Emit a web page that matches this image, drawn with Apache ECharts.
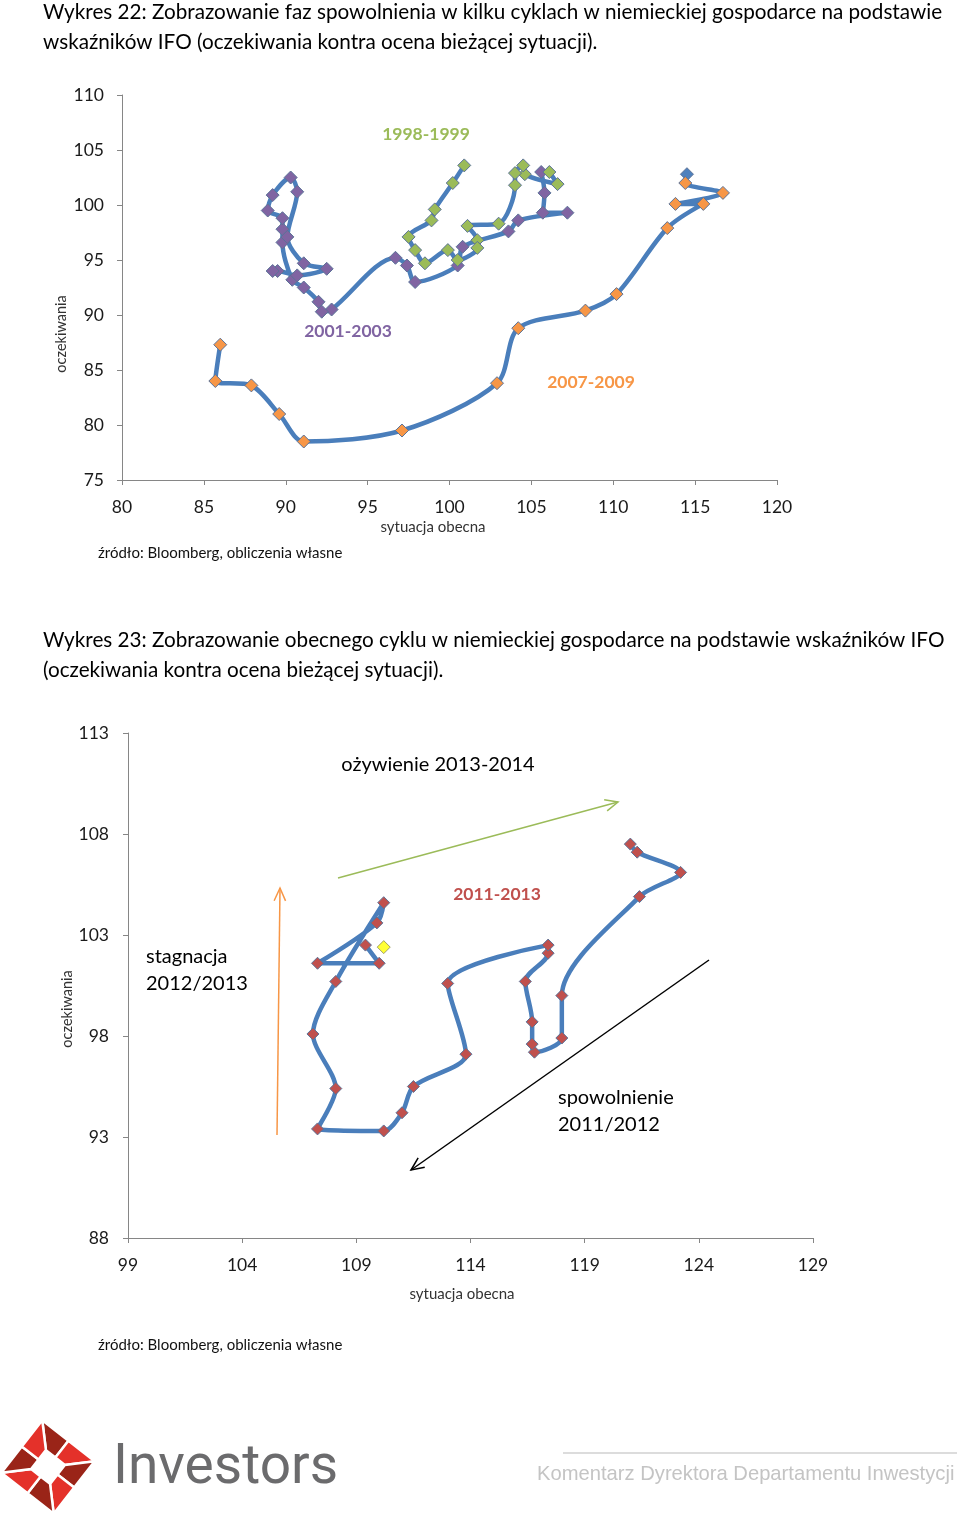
<!DOCTYPE html>
<html>
<head>
<meta charset="utf-8">
<script src="https://cdn.jsdelivr.net/npm/echarts@6/dist/echarts.min.js"></script>
<style>
html,body{margin:0;padding:0;background:#fff;}
#c{width:960px;height:1516px;}
</style>
</head>
<body>
<div id="c"></div>
<script>
// ---------- DATA ----------
// Chart 1 (Wykres 22): [sytuacja obecna, oczekiwania]
const c1XTicks = [80, 85, 90, 95, 100, 105, 110, 115, 120];
const c1YTicks = [75, 80, 85, 90, 95, 100, 105, 110];
const c1Orange = [
  [114.5,102.8],[114.4,102.0],[116.7,101.1],[113.8,100.1],[115.5,100.1],[113.3,97.9],
  [110.2,91.9],[108.3,90.4],[104.2,88.8],[102.9,83.8],[97.1,79.5],[91.1,78.5],
  [89.6,81.0],[87.9,83.6],[85.7,84.0],[86.0,87.3]
];
const c1Purple = [
  [105.6,103.0],[105.8,101.1],[105.7,99.3],[107.2,99.3],[104.2,98.6],[103.6,97.6],
  [100.8,96.2],[100.5,94.5],[97.9,93.0],[97.4,94.5],[96.7,95.2],[92.8,90.5],
  [92.2,90.3],[92.0,91.2],[91.1,92.5],[90.4,93.2],[89.8,96.6],[89.8,97.8],
  [89.8,98.8],[88.9,99.5],[89.2,100.9],[90.3,102.5],[90.7,101.2],[90.1,97.1],
  [91.1,94.7],[92.5,94.2],[90.7,93.6],[89.5,94.0],[89.2,94.0]
];
const c1Green = [
  [106.1,103.0],[106.6,101.9],[104.6,102.8],[104.5,103.6],[104.0,102.9],[104.0,101.8],
  [103.0,98.3],[101.1,98.1],[101.7,96.8],[101.7,96.1],[100.5,95.0],[99.9,95.9],
  [98.5,94.7],[97.9,95.9],[97.5,97.1],[98.9,98.6],[99.1,99.6],[100.2,102.0],[100.9,103.6]
];
// Chart 2 (Wykres 23)
const c2XTicks = [99, 104, 109, 114, 119, 124, 129];
const c2YTicks = [88, 93, 98, 103, 108, 113];
const c2Red = [
  [121.0,107.5],[121.3,107.1],[123.2,106.1],[121.4,104.9],[118.0,100.0],[118.0,97.9],
  [116.8,97.2],[116.7,97.6],[116.7,98.7],[116.4,100.7],[117.4,102.1],[117.4,102.5],
  [113.0,100.6],[113.8,97.1],[111.5,95.5],[111.0,94.2],[110.2,93.3],[107.3,93.4],
  [108.1,95.4],[107.1,98.1],[108.1,100.7],[110.2,104.6],[109.9,103.6],[107.3,101.6],
  [110.0,101.6],[109.4,102.5]
];
const c2Latest = [[110.2,102.4]];

// ---------- STYLE ----------
const FONT = 'Lato, "Open Sans", sans-serif';
const LINE_BLUE = '#4A7EBB';
const MARK_BORDER = '#5B7398';
const AXIS_GRAY = '#868686';

const chart = echarts.init(document.getElementById('c'), null, {renderer:'canvas'});

function xAx(grid, min, max, ticks){
  return {
    gridIndex: grid, type:'value', min:min, max:max, interval:1,
    axisLine:{show:true, onZero:false, lineStyle:{color:AXIS_GRAY, width:1}},
    axisTick:{show:true, length:5, customValues:ticks, lineStyle:{color:AXIS_GRAY}},
    axisLabel:{show:true, customValues:ticks, margin:18, fontSize:17.5, color:'#1a1a1a', fontFamily:FONT},
    splitLine:{show:false}
  };
}
function yAx(grid, min, max, ticks, margin){
  return {
    gridIndex: grid, type:'value', min:min, max:max, interval:1,
    axisLine:{show:true, onZero:false, lineStyle:{color:AXIS_GRAY, width:1}},
    axisTick:{show:true, length:5, customValues:ticks, lineStyle:{color:AXIS_GRAY}},
    axisLabel:{show:true, customValues:ticks, margin:margin, fontSize:17.5, color:'#1a1a1a', fontFamily:FONT},
    splitLine:{show:false}
  };
}
function lineSeries(name, grid, data, color, size){
  return {
    name:name, type:'line', xAxisIndex:grid, yAxisIndex:grid, data:data,
    smooth:0.3, symbol:'diamond', symbolSize:size, showAllSymbol:true,
    lineStyle:{color:LINE_BLUE, width:4.5},
    itemStyle:{color:color, borderColor:MARK_BORDER, borderWidth:1},
    emphasis:{disabled:true}, animation:false
  };
}

function txt(x, y, text, opt){
  opt = opt || {};
  return {
    type:'text', x:x, y:y, rotation: opt.rotation || 0, z:100,
    style:{
      text:text, fill: opt.fill || '#000',
      fontSize: opt.size || 19, fontFamily: opt.family || FONT,
      fontWeight: opt.weight || 'normal',
      align: opt.align || 'left', verticalAlign: opt.valign || 'middle'
    }
  };
}
function arrow(x1,y1,x2,y2,color,width){
  const ang = Math.atan2(y2-y1, x2-x1);
  const L = 14, a = 0.42;
  const p1 = [x2 - L*Math.cos(ang - a), y2 - L*Math.sin(ang - a)];
  const p2 = [x2 - L*Math.cos(ang + a), y2 - L*Math.sin(ang + a)];
  return [
    {type:'line', z:50, shape:{x1:x1,y1:y1,x2:x2,y2:y2}, style:{stroke:color, lineWidth:width}},
    {type:'polyline', z:50, shape:{points:[p1,[x2,y2],p2]}, style:{stroke:color, lineWidth:width, fill:null}}
  ];
}
// logo (decorative)
function logo(cx, cy){
  const els = [];
  const rot = -7*Math.PI/180;
  const R = 47, r = 17;
  const tips = [], inner = [];
  for (let i=0;i<4;i++){
    const t = -Math.PI/2 + i*Math.PI/2 + rot;
    tips.push([cx + R*Math.cos(t), cy + R*Math.sin(t)]);
    inner.push([cx + r*Math.cos(t), cy + r*Math.sin(t)]);
  }
  for (let i=0;i<4;i++){
    const T1 = tips[i], T2 = tips[(i+1)%4], I1 = inner[i], I2 = inner[(i+1)%4];
    const M = [(T1[0]+T2[0])/2,(T1[1]+T2[1])/2];
    const m = [(I1[0]+I2[0])/2,(I1[1]+I2[1])/2];
    els.push({type:'polygon', z:60, shape:{points:[T1,M,m,I1]}, style:{fill:'#9A2418', stroke:'#fff', lineWidth:2.5}});
    els.push({type:'polygon', z:60, shape:{points:[M,T2,I2,m]}, style:{fill:'#E4312A', stroke:'#fff', lineWidth:2.5}});
  }
  return els;
}

const TS = 20.7;
const graphics = [
  // Chart 1 title
  txt(43, 12, 'Wykres 22: Zobrazowanie faz spowolnienia w kilku cyklach w niemieckiej gospodarce na podstawie', {size:TS}),
  txt(43, 42, 'wskaźników IFO (oczekiwania kontra ocena bieżącej sytuacji).', {size:TS}),
  // chart 1 axis names
  txt(61, 334, 'oczekiwania', {size:14.5, rotation:Math.PI/2, align:'center', fill:'#333'}),
  txt(433, 527, 'sytuacja obecna', {size:15, align:'center', fill:'#333'}),
  txt(98, 553, 'źródło: Bloomberg, obliczenia własne', {size:15, fill:'#111'}),
  // chart 1 labels
  txt(426, 134, '1998-1999', {size:17.5, weight:'bold', fill:'#9BBB59', align:'center'}),
  txt(348, 331, '2001-2003', {size:17.5, weight:'bold', fill:'#8064A2', align:'center'}),
  txt(591, 382, '2007-2009', {size:17.5, weight:'bold', fill:'#F79646', align:'center'}),
  // Chart 2 title
  txt(43, 640, 'Wykres 23: Zobrazowanie obecnego cyklu w niemieckiej gospodarce na podstawie wskaźników IFO', {size:TS}),
  txt(43, 670, '(oczekiwania kontra ocena bieżącej sytuacji).', {size:TS}),
  txt(67, 1009, 'oczekiwania', {size:14.5, rotation:Math.PI/2, align:'center', fill:'#333'}),
  txt(462, 1294, 'sytuacja obecna', {size:15, align:'center', fill:'#333'}),
  txt(98, 1345, 'źródło: Bloomberg, obliczenia własne', {size:15, fill:'#111'}),
  txt(438, 765, 'ożywienie 2013-2014', {size:20, align:'center'}),
  txt(497, 894, '2011-2013', {size:17.5, weight:'bold', fill:'#C0504D', align:'center'}),
  txt(146, 957, 'stagnacja', {size:20}),
  txt(146, 984, '2012/2013', {size:20}),
  txt(558, 1098, 'spowolnienie', {size:20}),
  txt(558, 1125, '2011/2012', {size:20}),
  // footer
  {type:'line', z:10, shape:{x1:563,y1:1453,x2:957,y2:1453}, style:{stroke:'#d0d0d0', lineWidth:1.5}},
  txt(537, 1474, 'Komentarz Dyrektora Departamentu Inwestycji', {size:20.2, family:'"Liberation Sans", Arial, sans-serif', fill:'#c4c4c4'}),
  txt(113, 1469, 'Investors', {size:55, family:'Roboto, "DejaVu Sans", sans-serif', fill:'#6b6b6d'})
].concat(
  arrow(338, 878, 618, 802, '#9BBB59', 1.5),
  arrow(277, 1135, 280, 888, '#F79646', 1.5),
  arrow(709, 960, 411, 1170, '#000000', 1.5),
  logo(48, 1467)
);

const option = {
  animation:false,
  backgroundColor:'#ffffff',
  grid:[
    {left:122, top:95, width:655, height:385},
    {left:128, top:733, width:685, height:505}
  ],
  xAxis:[ xAx(0, 80, 120, c1XTicks), xAx(1, 99, 129, c2XTicks) ],
  yAxis:[ yAx(0, 75, 110, c1YTicks, 18), yAx(1, 88, 113, c2YTicks, 19) ],
  series:[
    lineSeries('2007-2009', 0,
        c1Orange.map((d,i)=> i===0 ? {value:d, itemStyle:{color:'#4F81BD'}} : d), '#F79646', 13),
    lineSeries('2001-2003', 0, c1Purple, '#8064A2', 13),
    lineSeries('1998-1999', 0, c1Green, '#9BBB59', 13),
    lineSeries('2011-2013', 1, c2Red, '#C0504D', 12),
    {
      name:'latest', type:'scatter', xAxisIndex:1, yAxisIndex:1, data:c2Latest,
      symbol:'diamond', symbolSize:13,
      itemStyle:{color:'#FFFF00', borderColor:'#8a8a5a', borderWidth:1}, z:5
    }
  ],
  graphic: graphics
};
chart.setOption(option);
</script>
</body>
</html>
